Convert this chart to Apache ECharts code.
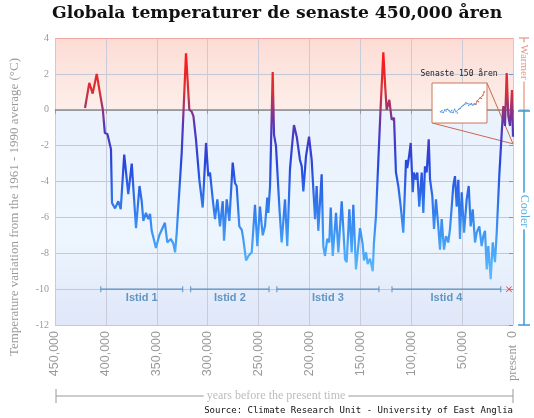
<!DOCTYPE html>
<html><head><meta charset="utf-8">
<script src="https://cdn.jsdelivr.net/npm/echarts@6/dist/echarts.min.js"></script>
<style>html,body{margin:0;padding:0;background:#fff}#c{width:534px;height:418px}</style>
</head><body><div id="c"></div>
<script>
// ---- data ----
const yearsBP = [420500,416300,413000,409000,405000,403000,401000,398500,395000,394000,
391000,387800,385400,382000,378000,374600,370400,367000,364800,363200,
360600,358300,356600,355000,350800,347500,342000,339700,336300,333800,
332000,330400,325500,324000,321300,318000,315700,314000,311500,310000,
308200,304900,301600,299400,297700,295000,292800,290500,287900,285200,
283900,281300,278700,275400,273100,271500,268900,266500,265000,262300,
260000,256700,253500,251200,248600,245900,243700,241400,240400,238700,
236100,234800,232900,229600,227300,224000,221800,219100,217400,215200,
212500,209300,207600,206000,203400,200400,197800,194500,192900,191300,
188000,186400,184700,182500,180500,179100,177100,173900,171600,168300,
165000,163400,160800,158500,156900,154300,152000,150300,147700,146400,
144400,142800,140500,137800,136600,134600,132300,130000,127400,125800,
124100,121500,119200,116900,115000,112700,110300,107800,105100,103900,
101900,100500,98500,97300,95300,94000,92100,89700,88100,86500,
84800,82800,81500,79300,77600,75700,73400,71700,70100,67800,
65800,63600,61900,60200,58700,57000,55300,53700,52100,50400,
48100,45500,43500,41600,39600,37300,35700,33100,30800,29200,
27500,25800,24300,21900,19900,17700,16000,13500,11100,9500,
7900,6200,4600,2900,1000,0];
const temps = [0.1,1.5,0.9,2.0,0.65,0,-1.3,-1.35,-2.2,-5.2,
-5.5,-5.1,-5.55,-2.5,-4.7,-3.0,-6.6,-4.25,-5.1,-6.2,
-5.75,-6.1,-5.8,-6.75,-7.7,-7.0,-6.3,-7.4,-7.2,-7.45,
-7.95,-6.85,-2.4,-2.3,3.15,0,-0.1,-0.35,-1.65,-1.75,
-3.9,-5.45,-1.85,-3.7,-3.5,-5.0,-6.1,-5.0,-6.5,-5.1,
-7.3,-5.0,-6.2,-2.95,-4.1,-4.25,-6.5,-6.7,-7.2,-8.4,
-8.15,-7.95,-5.3,-7.6,-5.4,-7.0,-6.5,-4.9,-5.75,-4.25,
2.1,-1.4,-2.0,-5.4,-7.4,-5.0,-7.6,-3.3,-2.2,-0.85,
-1.5,-2.8,-3.15,-4.55,-2.6,-1.5,-2.8,-6.1,-4.25,-6.75,
-3.6,-7.6,-8.15,-7.2,-7.4,-5.45,-8.15,-5.75,-7.95,-5.1,
-8.35,-8.5,-5.55,-7.95,-5.3,-8.9,-7.6,-6.6,-7.5,-8.4,
-7.95,-8.6,-8.3,-9.0,-7.4,-5.9,-2.8,0.2,3.2,1.5,
0.0,0.55,-0.55,-0.45,-3.5,-4.25,-5.4,-6.85,-2.8,-3.25,
-2.5,-1.85,-4.6,-3.5,-3.9,-3.5,-5.4,-3.5,-5.75,-3.15,
-3.5,-1.65,-3.9,-4.8,-6.65,-5.0,-6.5,-7.8,-6.1,-7.8,
-7.05,-7.4,-6.65,-5.4,-4.25,-3.7,-5.4,-3.9,-7.2,-4.6,
-6.85,-5.0,-4.25,-6.5,-5.55,-7.4,-6.85,-6.5,-7.6,-7.05,
-6.75,-8.9,-7.6,-9.45,-7.4,-8.5,-6.85,-3.7,-1.3,0.2,
-0.9,2.05,-0.35,-0.9,1.1,-1.5];

const iceNames = ['Istid 1','Istid 2','Istid 3','Istid 4'];
const iceStart = [405000,316700,232000,118900];
const iceEnd   = [324500,239700,131700,12000];
const iceLevel = -10;
const presentMark = [4000, -10];

const insetYearsBlue = [1850,1855,1860,1865,1870,1875,1880,1885,1890,1895,1900,1905,1910,1915,1920,1925,1930,1935,1940,1945,1950,1955,1960,1965,1970,1975];
const insetBlue = [-0.35,-0.3,-0.38,-0.28,-0.32,-0.25,-0.3,-0.36,-0.3,-0.38,-0.25,-0.35,-0.4,-0.25,-0.22,-0.15,-0.1,-0.05,0.02,-0.02,-0.1,-0.05,-0.02,-0.08,-0.03,-0.05];
const insetYearsRed = [1975,1980,1985,1990,1995,2000,2005];
const insetRed = [-0.05,0.08,0.05,0.2,0.18,0.3,0.45];

// inset connector anchors (in main chart data coords)
const connTopRight = [25800, 1.52];
const connBottomLeft = [79300, -0.74];
const connTarget = [0, -1.9];

const chart = echarts.init(document.getElementById('c'));
const serif = "'Liberation Serif', 'DejaVu Serif', serif";
const sans = "'Liberation Sans', Arial, sans-serif";

const mainData = yearsBP.map((y, i) => [y, temps[i]]);

const iceSeries = iceStart.map((s, i) => ({
  type: 'line', xAxisIndex: 0, yAxisIndex: 0,
  data: [[s, iceLevel], [iceEnd[i], iceLevel]],
  symbol: 'rect', symbolSize: [1, 6], showSymbol: true,
  lineStyle: { color: '#5b8fc0', width: 1.2 }, itemStyle: { color: '#5b8fc0' },
  silent: true, z: 4
}));

const bgGradient = new echarts.graphic.LinearGradient(0, 0, 0, 1, [
  { offset: 0, color: '#fcdcd5' },
  { offset: 0.25, color: '#fdeee9' },
  { offset: 0.2501, color: '#e9f2fd' },
  { offset: 0.7, color: '#edf5fe' },
  { offset: 1, color: '#dfe7f9' }
]);

const option = {
  animation: false,
  backgroundColor: '#fff',
  title: {
    text: 'Globala temperaturer de senaste 450,000 åren',
    left: 52, top: 5, padding: 0,
    textStyle: { fontFamily: "'DejaVu Serif', serif", fontWeight: 'bold', fontSize: 17.2, color: '#111' }
  },
  visualMap: {
    type: 'continuous', show: false, seriesIndex: 0, dimension: 1,
    min: -9, max: 3,
    inRange: { color: ['#58b8ff', '#3f98f4', '#2e72ea', '#2646de', '#5236bc', '#d6303a', '#ff1818'] }
  },
  grid: [
    { left: 55, right: 21, top: 38, bottom: 93, show: true, backgroundColor: bgGradient, borderWidth: 0 },
    { left: 432, top: 83, width: 55, height: 40, show: true, backgroundColor: '#fff', borderColor: '#c8785a', borderWidth: 1, z: 10 }
  ],
  xAxis: [{
    type: 'value', gridIndex: 0, min: 0, max: 450000, interval: 50000, inverse: true,
    axisLine: { show: true, lineStyle: { color: '#c3cbe6' } },
    axisTick: { show: true, length: 4, lineStyle: { color: '#999' } },
    splitLine: { show: true, lineStyle: { color: '#c8ccd8', width: 1 } },
    axisLabel: {
      rotate: 90, margin: 6, color: '#999', fontFamily: sans, fontSize: 12.5,
      formatter: v => v === 0 ? '{p|present}  {n|0}' : '{n|' + v.toLocaleString('en-US') + '}',
      rich: {
        n: { fontFamily: sans, fontSize: 12.5, color: '#999' },
        p: { fontFamily: serif, fontSize: 12.5, color: '#999' }
      }
    }
  }, {
    type: 'value', gridIndex: 1, min: 1820, max: 2015, show: false,
    splitLine: { show: false }
  }],
  yAxis: [{
    type: 'value', gridIndex: 0, min: -12, max: 4, interval: 2,
    axisLine: { show: false },
    axisTick: { show: true, length: 4, lineStyle: { color: '#7d8fd8' } },
    splitLine: { show: true, lineStyle: { color: '#c4c8d6', width: 1 } },
    axisLabel: { color: '#999', fontFamily: serif, fontSize: 10, margin: 6 }
  }, {
    type: 'value', gridIndex: 1, min: -0.8, max: 0.8, interval: 0.4,
    axisLabel: { show: false }, axisTick: { show: false }, axisLine: { show: false },
    splitLine: { show: true, lineStyle: { color: '#e6ebf3', width: 0.6 } }
  }],
  series: [
    {
      type: 'line', name: 'temp', xAxisIndex: 0, yAxisIndex: 0,
      data: mainData, showSymbol: false, symbol: 'none',
      lineStyle: { width: 2.2 }, z: 5
    },
    {
      type: 'line', xAxisIndex: 0, yAxisIndex: 0, data: [], silent: true, z: 3,
      markLine: {
        silent: true, symbol: 'none', label: { show: false },
        data: [
          { yAxis: 0, lineStyle: { color: '#8a8a8a', width: 1.6, type: 'solid' } },
          { yAxis: 4, lineStyle: { color: '#f2a8a0', width: 1.2, type: 'solid' } },
          [{ coord: connTopRight, lineStyle: { color: '#c86a4a', width: 1, type: 'solid' } }, { coord: connTarget }],
          [{ coord: connBottomLeft, lineStyle: { color: '#c86a4a', width: 1, type: 'solid' } }, { coord: connTarget }]
        ]
      }
    },
    ...iceSeries,
    {
      type: 'scatter', xAxisIndex: 0, yAxisIndex: 0, symbolSize: 0, silent: true, z: 6,
      data: iceNames.map((n, i) => [(iceStart[i] + iceEnd[i]) / 2, iceLevel, n]),
      label: {
        show: true, position: 'bottom', distance: 3,
        formatter: p => p.value[2],
        color: '#3f7fb5', fontWeight: 'bold', fontSize: 11, fontFamily: sans
      }
    },
    {
      type: 'scatter', xAxisIndex: 0, yAxisIndex: 0, silent: true, z: 6,
      data: [presentMark],
      symbol: 'path://M1,0 L5,4 L9,0 L10,1 L6,5 L10,9 L9,10 L5,6 L1,10 L0,9 L4,5 L0,1 Z',
      symbolSize: 6, itemStyle: { color: '#e03030' }
    },
    {
      type: 'line', xAxisIndex: 1, yAxisIndex: 1, z: 11,
      data: insetYearsBlue.map((y, i) => [y, insetBlue[i]]),
      symbol: 'circle', symbolSize: 1.6, showSymbol: true,
      lineStyle: { color: '#5a9ad8', width: 0.8 }, itemStyle: { color: '#5a9ad8' }
    },
    {
      type: 'line', xAxisIndex: 1, yAxisIndex: 1, z: 11,
      data: insetYearsRed.map((y, i) => [y, insetRed[i]]),
      symbol: 'circle', symbolSize: 1.6, showSymbol: true,
      lineStyle: { color: '#e06048', width: 0.9 }, itemStyle: { color: '#e06048' }
    }
  ],
  graphic: [
    { type: 'text', x: 15, y: 207, rotation: Math.PI / 2,
      style: { text: 'Temperature variation from the 1961 - 1990 average (°C)', fill: '#9a9a9a',
        font: "13px 'Liberation Serif', serif", textAlign: 'center', textVerticalAlign: 'middle' } },
    // Warmer bracket
    { type: 'line', shape: { x1: 524, y1: 38, x2: 524, y2: 110 }, style: { stroke: '#e8a898', lineWidth: 1.5 } },
    { type: 'line', shape: { x1: 519, y1: 38, x2: 529, y2: 38 }, style: { stroke: '#e8a898', lineWidth: 1.5 } },
    { type: 'line', shape: { x1: 519, y1: 110, x2: 529, y2: 110 }, style: { stroke: '#e8a898', lineWidth: 1.5 } },
    { type: 'text', x: 524, y: 62, rotation: -Math.PI / 2,
      style: { text: 'Warmer', fill: '#e09a88', font: "11px 'Liberation Serif', serif",
        textAlign: 'center', textVerticalAlign: 'middle', backgroundColor: '#fff', padding: [0, 2] } },
    // Cooler bracket
    { type: 'line', shape: { x1: 524, y1: 110, x2: 524, y2: 325 }, style: { stroke: '#3a9ad6', lineWidth: 1.5 } },
    { type: 'line', shape: { x1: 518, y1: 111, x2: 530, y2: 111 }, style: { stroke: '#3a9ad6', lineWidth: 1.5 } },
    { type: 'line', shape: { x1: 518, y1: 325, x2: 530, y2: 325 }, style: { stroke: '#3a9ad6', lineWidth: 1.5 } },
    { type: 'text', x: 524, y: 211, rotation: -Math.PI / 2,
      style: { text: 'Cooler', fill: '#5ab0e0', font: "12px 'Liberation Serif', serif",
        textAlign: 'center', textVerticalAlign: 'middle', backgroundColor: '#fff', padding: [0, 2] } },
    // years before present bracket
    { type: 'line', shape: { x1: 56, y1: 396, x2: 513, y2: 396 }, style: { stroke: '#9a9a9a', lineWidth: 1 } },
    { type: 'line', shape: { x1: 56, y1: 389, x2: 56, y2: 403 }, style: { stroke: '#9a9a9a', lineWidth: 1 } },
    { type: 'line', shape: { x1: 513, y1: 389, x2: 513, y2: 403 }, style: { stroke: '#9a9a9a', lineWidth: 1 } },
    { type: 'text', x: 276, y: 396,
      style: { text: 'years before the present time', fill: '#bdbdbd', font: "12px 'Liberation Serif', serif",
        textAlign: 'center', textVerticalAlign: 'middle', backgroundColor: '#fff', padding: [0, 3] } },
    { type: 'text', x: 513, y: 411,
      style: { text: 'Source: Climate Research Unit - University of East Anglia', fill: '#111',
        font: "9px 'DejaVu Sans Mono', monospace", textAlign: 'right', textVerticalAlign: 'middle' } },
    { type: 'text', x: 459, y: 74, z: 20,
      style: { text: 'Senaste 150 åren', fill: '#222', font: "8px 'DejaVu Sans Mono', monospace",
        textAlign: 'center', textVerticalAlign: 'middle' } }
  ]
};
chart.setOption(option);
</script>
</body></html>
